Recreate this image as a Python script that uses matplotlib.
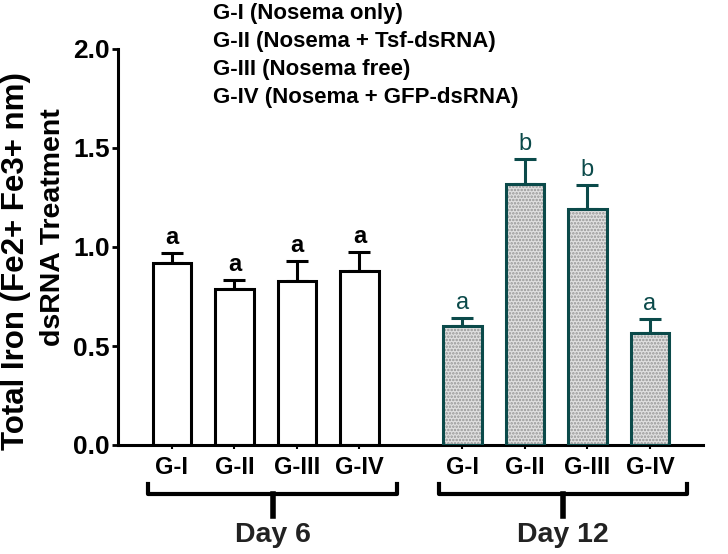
import matplotlib
matplotlib.use('Agg')
import matplotlib.pyplot as plt
import numpy as np

plt.rcParams['font.family'] = ['Liberation Sans', 'DejaVu Sans']
plt.rcParams['hatch.linewidth'] = 1.2

groups = ['G-I', 'G-II', 'G-III', 'G-IV']
day6_mean = [0.92, 0.79, 0.83, 0.88]
day6_err = [0.05, 0.045, 0.10, 0.095]
day12_mean = [0.60, 1.32, 1.19, 0.565]
day12_err = [0.04, 0.125, 0.125, 0.07]
day6_letters = ['a', 'a', 'a', 'a']
day12_letters = ['a', 'b', 'b', 'a']
legend_lines = ['G-I (Nosema only)', 'G-II (Nosema + Tsf-dsRNA)',
                'G-III (Nosema free)', 'G-IV (Nosema + GFP-dsRNA)']

teal = '#0b4a4a'
x6 = np.arange(4)
x12 = np.arange(4) + 4.65
w = 0.62
W, H = 728, 554

fig = plt.figure(figsize=(7.28, 5.54), dpi=100)
ax = fig.add_axes([118 / W, 1 - 445 / H, 585 / W, 396 / H])

# day 6 - open bars
ax.bar(x6, day6_mean, w, color='white', edgecolor='black', lw=2.2, zorder=2)
ax.errorbar(x6, day6_mean, yerr=[np.zeros(4), day6_err], fmt='none',
            ecolor='black', elinewidth=2.2, capsize=8, capthick=2.2, zorder=1)
# day 12 - stippled bars
ax.bar(x12, day12_mean, w, color='#e0e0e0', edgecolor='#959595', hatch='.....',
       lw=0, zorder=2)
ax.bar(x12, day12_mean, w, fill=False, edgecolor=teal, lw=2.2, zorder=3)
ax.errorbar(x12, day12_mean, yerr=[np.zeros(4), day12_err], fmt='none',
            ecolor=teal, elinewidth=2.2, capsize=8, capthick=2.2, zorder=1)

for xi, m, e, t in zip(x6, day6_mean, day6_err, day6_letters):
    ax.text(xi, m + e + 0.02, t, ha='center', va='bottom', fontsize=17,
            fontweight='bold')
for xi, m, e, t in zip(x12, day12_mean, day12_err, day12_letters):
    ax.text(xi, m + e + 0.02, t, ha='center', va='bottom', fontsize=17,
            color=teal)

ax.set_ylim(0, 2.0)
ax.set_xlim(-0.864, 8.5)
ax.set_yticks([0.0, 0.5, 1.0, 1.5, 2.0])
ax.set_yticklabels(['0.0', '0.5', '1.0', '1.5', '2.0'], fontsize=19,
                   fontweight='bold')
ax.set_xticks(np.concatenate([x6, x12]))
ax.set_xticklabels(groups + groups, fontsize=17, fontweight='bold')
ax.tick_params(axis='y', length=4, width=2, pad=2)
ax.tick_params(axis='x', length=3, width=1.5, pad=5)
for s in ['top', 'right']:
    ax.spines[s].set_visible(False)
ax.spines['left'].set_linewidth(2.2)
ax.spines['bottom'].set_linewidth(2.2)

# y label, two lines placed separately
fig.text(16.5 / W, 1 - 450 / H, 'Total Iron (Fe2+ Fe3+ nm)', rotation=90,
         ha='center', va='bottom', fontsize=22.5, fontweight='bold')
fig.text(53 / W, 1 - 108 / H, 'dsRNA Treatment', rotation=90,
         ha='center', va='top', fontsize=20.5, fontweight='bold')

# group brackets
tr = ax.get_xaxis_transform()
for xs, label in [(x6, 'Day 6'), (x12, 'Day 12')]:
    x0, x1 = xs[0] - 0.38, xs[-1] + 0.6
    xm = (x0 + x1) / 2
    ax.plot([x0, x0, x1, x1], [-0.098, -0.124, -0.124, -0.098], color='black',
            lw=3, transform=tr, clip_on=False, solid_joinstyle='round')
    ax.plot([xm, xm], [-0.124, -0.18], color='black', lw=4, transform=tr,
            clip_on=False)
    ax.text(xm, -0.228, label, transform=tr, ha='center', va='center',
            fontsize=20.5, fontweight='bold', color='#222222')

for i, line in enumerate(legend_lines):
    fig.text(213 / W, 1 - (14 + 27.7 * i) / H, line, ha='left', va='center',
             fontsize=16, fontweight='bold')

fig.savefig('out.png', dpi=100)
plt.close('all')
